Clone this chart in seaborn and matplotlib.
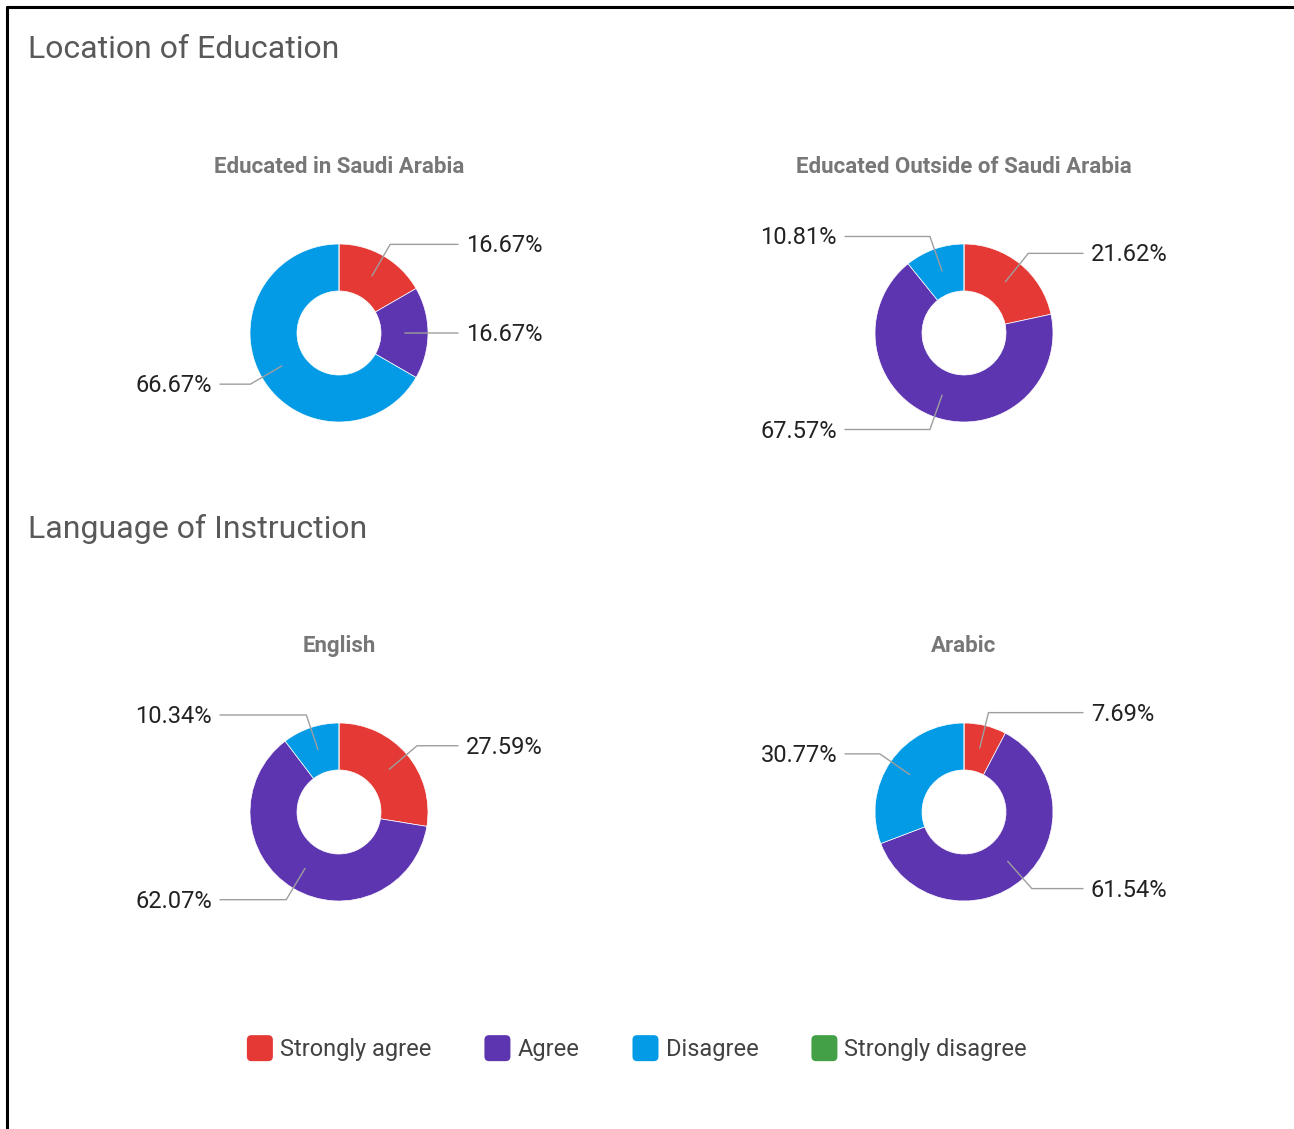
import numpy as np
import matplotlib
matplotlib.use("Agg")
import matplotlib.pyplot as plt
import seaborn as sns
from matplotlib.patches import Patch, FancyBboxPatch
from matplotlib.lines import Line2D
from matplotlib.legend_handler import HandlerPatch

# ---------------- data ----------------
categories = ["Strongly agree", "Agree", "Disagree", "Strongly disagree"]
section_titles = ["Location of Education", "Language of Instruction"]
chart_titles = ["Educated in Saudi Arabia", "Educated Outside of Saudi Arabia", "English", "Arabic"]
saudi = [16.67, 16.67, 66.67, 0.0]
outside = [21.62, 67.57, 10.81, 0.0]
english = [27.59, 62.07, 10.34, 0.0]
arabic = [7.69, 61.54, 30.77, 0.0]

# ---------------- style ----------------
W, H = 1294, 1129
sns.set_theme(style="white")
plt.rcParams['font.family'] = ['Roboto', 'DejaVu Sans']
palette = sns.color_palette(["#E53935", "#5E35B1", "#039BE5", "#43A047"])

fig = plt.figure(figsize=(W / 100, H / 100), dpi=100)
fig.patch.set_facecolor("white")


def fx(px):
    return px / W


def fy(py):
    return 1 - py / H


# frame (top and left edges visible)
fig.add_artist(Line2D([fx(7), fx(W)], [fy(7), fy(7)], color="black", lw=2.2, transform=fig.transFigure))
fig.add_artist(Line2D([fx(7), fx(7)], [fy(7), fy(H)], color="black", lw=2.2, transform=fig.transFigure))

R = 89.0          # outer radius in px
HOLE = 42.0       # inner radius in px
AW, AH = 600, 320  # axes size in px


def donut(cx, cy, values, title):
    ax = fig.add_axes([fx(cx - AW / 2), fy(cy + AH / 2), AW / W, AH / H])
    ax.pie(values, colors=palette, startangle=90, counterclock=False, radius=1,
           wedgeprops=dict(width=(R - HOLE) / R, edgecolor="white", linewidth=0.5))
    ax.set_xlim(-AW / 2 / R, AW / 2 / R)
    ax.set_ylim(-AH / 2 / R, AH / 2 / R)
    ax.set_aspect("equal")
    ax.axis("off")
    total = sum(values)
    cum = 0.0
    for v in values:
        if v <= 0:
            cum += v
            continue
        t = np.deg2rad((cum + v / 2) / total * 360.0)
        cum += v
        s, c = np.sin(t), np.cos(t)
        r0, r1 = 0.74, 1.15
        x0, y0 = r0 * s, r0 * c
        x1, y1 = r1 * s, r1 * c
        side = 1 if s > 0 else -1
        xe = side * 119 / R
        xt = side * 127 / R
        ax.plot([x0, x1, xe], [y0, y1, y1], color="#9e9e9e", lw=1.0, clip_on=False,
                solid_joinstyle="miter")
        ax.text(xt, y1 - 1.5 / R, f"{v:.2f}%", ha="left" if side > 0 else "right", va="center",
                fontsize=17, color="#222222", clip_on=False)
    fig.text(fx(cx), fy(cy - 166), title, ha="center", va="center", fontsize=16,
             fontweight="bold", color="#777777")


donut(339, 333, saudi, chart_titles[0])
donut(964, 333, outside, chart_titles[1])
donut(339, 812, english, chart_titles[2])
donut(964, 812, arabic, chart_titles[3])

fig.text(fx(28), fy(50), section_titles[0], ha="left", va="center", fontsize=23, color="#595959")
fig.text(fx(28), fy(529), section_titles[1], ha="left", va="center", fontsize=23, color="#595959")


class RoundSquare(HandlerPatch):
    def create_artists(self, legend, orig_handle, xdescent, ydescent, width, height, fontsize, trans):
        side = 26 * 72 / 100  # square side in points
        p = FancyBboxPatch((-xdescent + (width - side) / 2, -ydescent + (height - side) / 2), side, side,
                           boxstyle=f"round,pad=0,rounding_size={side * 0.18}",
                           facecolor=orig_handle.get_facecolor(), edgecolor="none", transform=trans)
        return [p]


handles = [Patch(facecolor=col, edgecolor=col, label=cat) for col, cat in zip(palette, categories)]
leg = fig.legend(handles=handles, loc="center", bbox_to_anchor=(fx(637), fy(1049)), ncol=4,
                 frameon=False, fontsize=17, handlelength=1.1, handleheight=1.1,
                 handletextpad=0.3, columnspacing=2.25, labelcolor="#424242",
                 handler_map={Patch: RoundSquare()})

fig.savefig("out.png", dpi=100, facecolor="white")
